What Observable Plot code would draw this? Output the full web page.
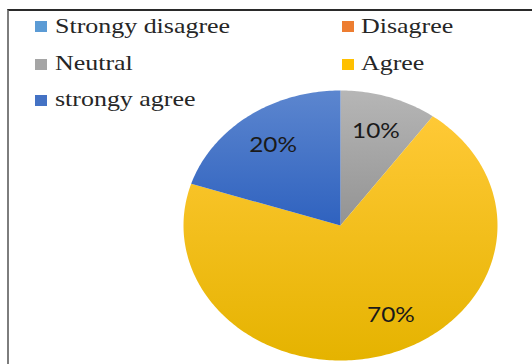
<!DOCTYPE html>
<html>
<head>
<meta charset="utf-8">
<script src="https://cdn.jsdelivr.net/npm/d3@7"></script>
<script src="https://cdn.jsdelivr.net/npm/@observablehq/plot@0.6"></script>
<style>
  html, body { margin: 0; padding: 0; background: #fff; overflow: hidden; }
  #wrap { position: relative; width: 532px; height: 364px; }
  #frame { position: absolute; left: 7px; top: 9px; width: 540px; height: 370px;
           border-top: 2px solid #2a2a2a; border-left: 2px solid #7d7d7d; box-sizing: border-box; }
  #chart { position: absolute; left: 0; top: 0; }
  #legend { position: absolute; left: 0; top: 0; }
</style>
</head>
<body>
<div id="wrap">
  <div id="chart"></div>
  <div id="frame"></div>
  <div id="legend"></div>
</div>
<script>
// ---- data ----
const categories = ["Strongy disagree", "Disagree", "Neutral", "Agree", "strongy agree"];
const values = [0, 0, 10, 70, 20];
const labels = ["0%", "0%", "10%", "70%", "20%"];

// ---- styles ----
const palette = ["#5b9bd5", "#ed7d31", "#a5a5a5", "#ffc000", "#4472c4"];
const gradStops = [
  ["#6aa6dc", "#4b8bc8"],
  ["#f08a44", "#d96d22"],
  ["#b6b6b6", "#939393"],
  ["#ffc936", "#e5b300"],
  ["#5c86cf", "#2f62bf"]
];

// ---- pie geometry ----
const arcs = d3.pie().sort(null).value(d => d)(values);
const pts = [];
const lab = [];
arcs.forEach((a, i) => {
  if (values[i] <= 0) return;
  const grad = `url(#g${i})`;
  pts.push({cat: categories[i], grad, x: 0, y: 0});
  const n = Math.max(2, Math.ceil((a.endAngle - a.startAngle) / (Math.PI / 180)));
  for (let k = 0; k <= n; k++) {
    const t = a.startAngle + (a.endAngle - a.startAngle) * k / n;
    pts.push({cat: categories[i], grad, x: Math.sin(t), y: Math.cos(t)});
  }
  const m = (a.startAngle + a.endAngle) / 2;
  const r = 0.73;
  lab.push({cat: categories[i], text: labels[i], x: r * Math.sin(m), y: r * Math.cos(m)});
});

const svg = Plot.plot({
  width: 532,
  height: 364,
  margin: 0,
  x: {domain: [-1, 1], range: [183, 497], axis: null},
  y: {domain: [-1, 1], range: [360, 90], axis: null},
  color: {type: "identity"},
  style: {background: "transparent", overflow: "visible"},
  marks: [
    Plot.line(pts, {x: "x", y: "y", z: "cat", fill: "grad", stroke: "none", curve: "linear-closed"}),
    Plot.text(lab.filter(d => d.cat !== "Agree"), {x: "x", y: "y", text: "text", fill: "#1a1a1a",
      fontFamily: "Lato, 'Liberation Sans', sans-serif", fontSize: 21}),
    Plot.text(lab.filter(d => d.cat === "Agree"), {x: "x", y: "y", text: "text", fill: "#1a1a1a",
      fontFamily: "Lato, 'Liberation Sans', sans-serif", fontSize: 21, dx: 15, dy: -4})
  ]
});

// gradients
const defs = d3.select(svg).insert("defs", ":first-child");
gradStops.forEach((s, i) => {
  const g = defs.append("linearGradient").attr("id", `g${i}`).attr("x1", 0).attr("y1", 0).attr("x2", 0).attr("y2", 1);
  g.append("stop").attr("offset", "0%").attr("stop-color", s[0]);
  g.append("stop").attr("offset", "100%").attr("stop-color", s[1]);
});

// horizontal stretch of labels, like the reference
d3.select(svg).selectAll("text").each(function() {
  const tr = this.getAttribute("transform");
  if (tr && tr.includes("translate")) {
    this.setAttribute("transform", tr + " scale(1.16,1)");
  } else {
    const x = +this.getAttribute("x") || 0, y = +this.getAttribute("y") || 0;
    this.removeAttribute("x"); this.removeAttribute("y");
    this.setAttribute("transform", `translate(${x},${y}) scale(1.16,1)`);
  }
});

document.getElementById("chart").appendChild(svg);

// ---- legend (separate small svg) ----
const colX = [[35, 55], [342, 361]];
const rowBase = [33, 69.5, 106];
const swTop = [21, 59, 95];
const lsvg = d3.select("#legend").append("svg").attr("width", 532).attr("height", 120);
categories.forEach((c, i) => {
  const col = i % 2, row = Math.floor(i / 2);
  lsvg.append("rect").attr("x", colX[col][0]).attr("y", swTop[row]).attr("width", 12).attr("height", 11)
    .attr("fill", palette[i]);
  lsvg.append("text")
    .attr("transform", `translate(${colX[col][1]},${rowBase[row]}) scale(1.18,1)`)
    .attr("font-family", "Liberation Serif")
    .attr("font-size", 22)
    .attr("fill", "#262626")
    .text(c);
});
</script>
</body>
</html>
